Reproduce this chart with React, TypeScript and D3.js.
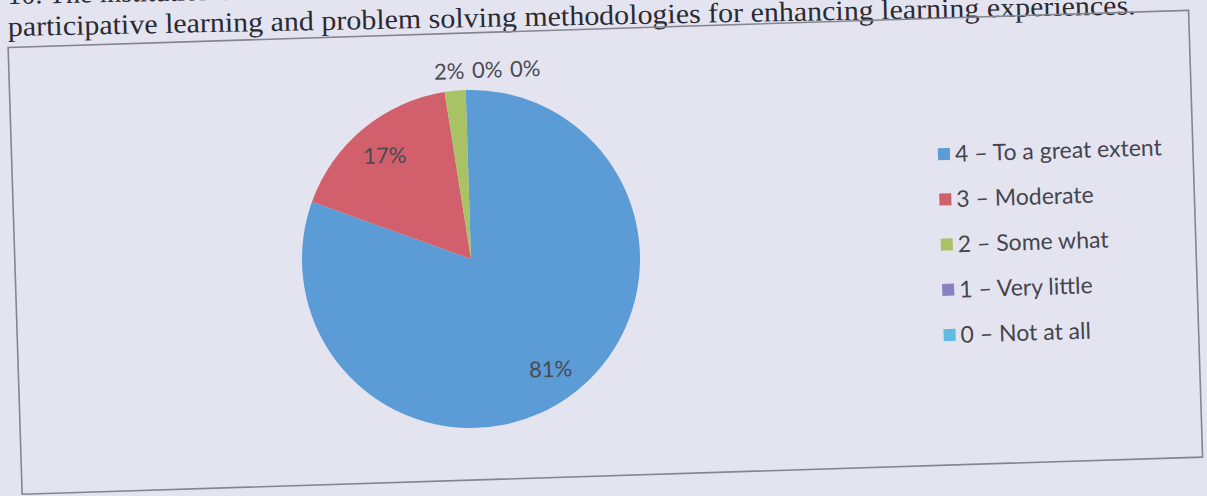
import React from "react";
import * as d3 from "d3";

const categories = ["4 – To a great extent", "3 – Moderate", "2 – Some what", "1 – Very little", "0 – Not at all"];
const values = [81, 17, 2, 0, 0];
const colors = ["#5b9bd6", "#d1606c", "#a9c264", "#8a80c2", "#5ebde0"];
const titleLines = [
  "10. The institution uses student centric methods, such as experiential learning,",
  "participative learning and problem solving methodologies for enhancing learning experiences.",
];

const W = 1207;
const H = 496;

export default function App() {
  const cx = 471;
  const cy = 259;
  const r = 169;
  const pie = d3.pie<number>().sort(null).value((d) => d)(values);
  const arc = d3.arc<d3.PieArcDatum<number>>().innerRadius(0).outerRadius(r);
  const innerLabelArc = d3.arc<d3.PieArcDatum<number>>().innerRadius(r * 0.8).outerRadius(r * 0.8);
  const outerLabelArc = d3.arc<d3.PieArcDatum<number>>().innerRadius(r * 1.12).outerRadius(r * 1.12);
  const total = d3.sum(values);
  const fmt = (v: number) => `${Math.round((v / total) * 100)}%`;

  // label layout: small slices placed outside, spread to the right to avoid overlap
  let prevX = -Infinity;
  const labels = pie.map((p) => {
    const small = p.data / total < 0.05;
    if (!small) {
      const [x, y] = innerLabelArc.centroid(p);
      return { x, y, text: fmt(p.data) };
    }
    let [x, y] = outerLabelArc.centroid(p);
    x -= 4;
    if (x < prevX + 38) x = prevX + 38;
    prevX = x;
    return { x, y, text: fmt(p.data) };
  });

  const legendY = d3.scalePoint<string>().domain(categories).range([168, 349]);

  return (
    <div style={{ position: "absolute", left: 0, top: 0, width: W, height: H, overflow: "hidden" }}>
      <svg width={W} height={H} style={{ display: "block" }}>
        <rect x={0} y={0} width={W} height={H} fill="#e4e4f0" />
        <g transform="rotate(-1.1, 8, 36)">
          {titleLines.map((t, i) => (
            <text
              key={i}
              x={8}
              y={36 - (1 - i) * 32}
              fontFamily="'Liberation Serif', 'Times New Roman', serif"
              fontSize={28}
              fill="#2a2a30"
              textLength={i === 1 ? 1128 : undefined}
              lengthAdjust="spacingAndGlyphs"
            >
              {t}
            </text>
          ))}
        </g>
        <g transform={`rotate(-1.8, ${cx}, ${cy})`}>
          <rect x={15} y={33} width={1181} height={447} fill="none" stroke="#85858f" strokeWidth={1.6} />
          <g transform={`translate(${cx},${cy})`}>
            {pie.map((p, i) => (
              <path key={i} d={arc(p) || ""} fill={colors[i]} />
            ))}
            {labels.map((l, i) => (
              <text
                key={i}
                x={l.x}
                y={l.y}
                textAnchor="middle"
                dominantBaseline="central"
                fontFamily="Lato, 'Open Sans', sans-serif"
                fontSize={22}
                fill="#4a4a52"
              >
                {l.text}
              </text>
            ))}
          </g>
          {categories.map((c, i) => {
            const y = legendY(c) as number;
            return (
              <g key={c}>
                <rect x={941} y={y - 5} width={12} height={12} fill={colors[i]} />
                <text
                  x={958}
                  y={y}
                  dominantBaseline="central"
                  fontFamily="Lato, 'Open Sans', sans-serif"
                  fontSize={23}
                  fill="#45454e"
                >
                  {c}
                </text>
              </g>
            );
          })}
        </g>
      </svg>
    </div>
  );
}
